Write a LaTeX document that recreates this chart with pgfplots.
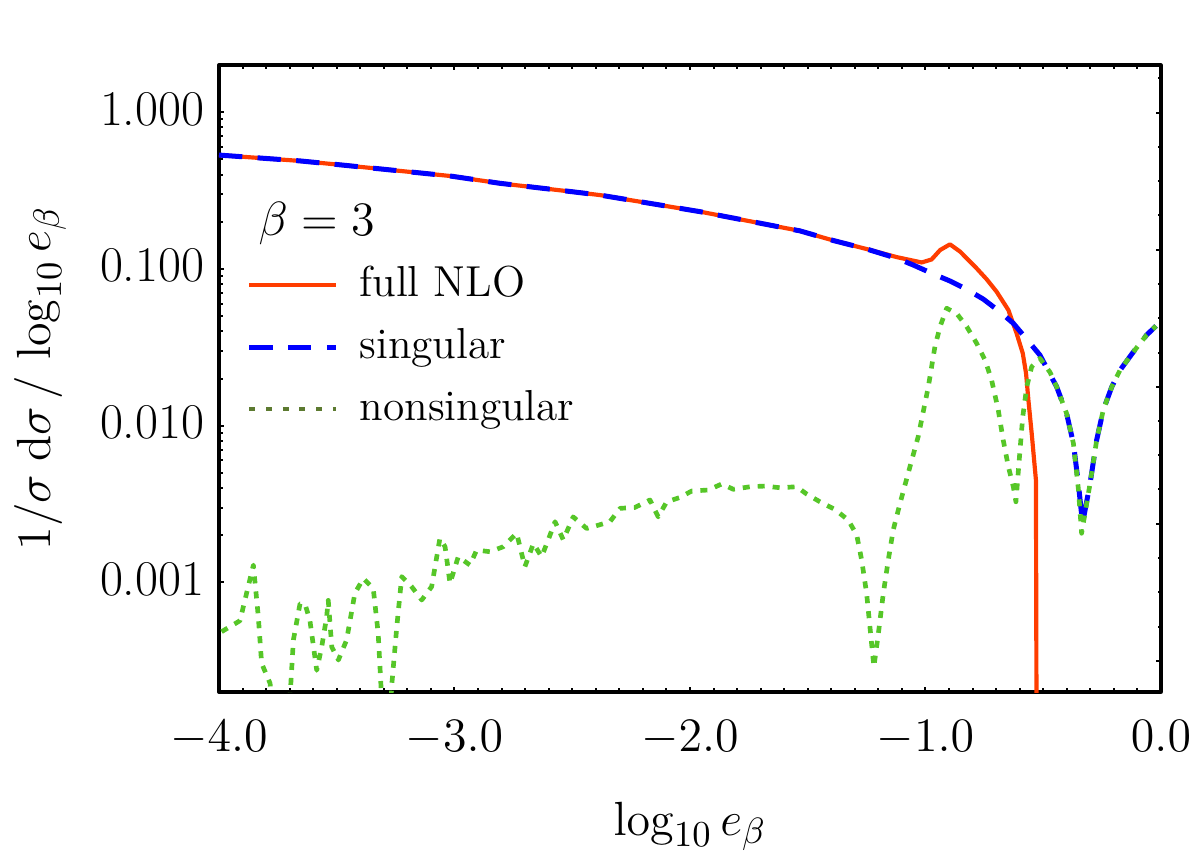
\documentclass[border=0pt]{standalone}
\usepackage{pgfplots}
\pgfplotsset{compat=1.18}
\definecolor{nlored}{RGB}{255,61,0}
\definecolor{singblue}{RGB}{0,0,255}
\definecolor{nsgreen}{RGB}{86,198,40}
\definecolor{nsolive}{RGB}{92,122,48}
\begin{document}
\begin{tikzpicture}
\path[use as bounding box] (-65.7pt,-50.4pt) rectangle (294.3pt,207.6pt);
\begin{axis}[
  at={(0pt,0pt)}, anchor=south west,
  scale only axis, width=282.6pt, height=188.1pt,
  xmin=-4, xmax=0, ymode=log, ymin=2e-4, ymax=2,
  axis line style={line width=1pt},
  tick align=inside, xtick pos=both, ytick pos=left,
  xtick={-4,-3,-2,-1,0},
  xticklabels={$-4.0$,$-3.0$,$-2.0$,$-1.0$,$0.0$},
  minor x tick num=9,
  ytick={0.001,0.01,0.1,1},
  yticklabels={0.001,0.010,0.100,1.000},
  major tick length=1.5pt, minor tick length=1.3pt,
  tick style={black, line width=0.6pt},
  tick label style={font=\fontsize{15}{18}\selectfont, inner sep=0pt},
  xticklabel style={anchor=base, yshift=-17.7pt},
  yticklabel style={anchor=east, xshift=-4.2pt, yshift=1pt},
  xlabel={$\log_{10} e_{\beta}$},
  ylabel={$1/\sigma\;\mathrm{d}\sigma\,/\,\log_{10} e_{\beta}$},
  label style={font=\fontsize{15.3}{18}\selectfont, inner sep=0pt},
  xlabel style={at={(axis description cs:0.5,-0.2281)}, anchor=base},
  ylabel style={at={(axis description cs:-0.1794,0.5)}, anchor=base},
  legend style={at={(axis description cs:0.0297,0.6863)}, anchor=north west,
    draw=none, fill=none, inner sep=0pt, outer sep=0pt,
    row sep=4.6pt, column sep=6.3pt,
    font=\fontsize{13}{15}\selectfont,
    nodes={inner sep=0pt, text height=10.5pt, text depth=3.5pt}},
  legend cell align=left,
  legend image code/.code={\draw[#1] (0pt,0pt) -- (26pt,0pt);},
  line join=round,
]
\addplot[nlored, line width=1.25pt] coordinates {
(-4.000,0.533) (-3.656,0.489) (-3.500,0.464) (-3.019,0.392) (-2.807,0.352)
(-2.500,0.311) (-2.382,0.296) (-1.957,0.232) (-1.533,0.175) (-1.392,0.152)
(-1.250,0.134) (-1.122,0.119) (-1.016,0.110) (-0.974,0.115) (-0.938,0.132)
(-0.896,0.1436) (-0.853,0.129) (-0.783,0.101) (-0.740,0.0859) (-0.698,0.0716)
(-0.648,0.0547) (-0.613,0.0388) (-0.587,0.0290) (-0.573,0.0216) (-0.563,0.0146)
(-0.549,0.00893) (-0.531,0.00450) (-0.525,0.000001)
};
\addlegendentry{full NLO}
\addplot[singblue, line width=1.5pt, dash pattern=on 7pt off 4.6pt] coordinates {
(-4.000,0.533) (-3.656,0.489) (-3.500,0.464) (-3.019,0.392) (-2.807,0.352)
(-2.500,0.311) (-2.382,0.296) (-1.957,0.232) (-1.533,0.175) (-1.392,0.152)
(-1.250,0.134) (-1.122,0.117) (-1.052,0.106) (-0.967,0.0929) (-0.896,0.0838)
(-0.825,0.0741) (-0.755,0.0643) (-0.684,0.0533) (-0.627,0.0450) (-0.570,0.0356)
(-0.514,0.0282) (-0.443,0.0177) (-0.401,0.0120) (-0.372,0.00773) (-0.351,0.00429)
(-0.333,0.00238) (-0.301,0.00429) (-0.273,0.00811) (-0.245,0.0126) (-0.209,0.0177)
(-0.174,0.0226) (-0.117,0.0296) (-0.061,0.0379) (-0.021,0.0433)
};
\addlegendentry{singular}
\addplot[nsgreen, line width=1.4pt, dash pattern=on 2.1pt off 2.4pt, forget plot] coordinates {
(-3.989,4.85e-4) (-3.911,5.70e-4) (-3.854,1.29e-3) (-3.833,6.04e-4) (-3.819,3.05e-4)
(-3.783,2.27e-4) (-3.740,3.2e-5) (-3.699,1.78e-4) (-3.684,4.30e-4) (-3.656,7.31e-4)
(-3.635,7.31e-4) (-3.614,5.73e-4) (-3.585,2.75e-4) (-3.564,3.87e-4) (-3.543,6.01e-4)
(-3.536,7.69e-4) (-3.521,3.87e-4) (-3.493,3.20e-4) (-3.458,4.30e-4) (-3.423,8.53e-4)
(-3.387,1.06e-3) (-3.345,9.18e-4) (-3.324,4.73e-4) (-3.309,1.78e-4) (-3.290,3.2e-5)
(-3.267,2.16e-4) (-3.245,5.22e-4) (-3.224,1.09e-3) (-3.182,9.40e-4) (-3.139,7.73e-4)
(-3.097,9.40e-4) (-3.062,1.91e-3) (-3.040,1.69e-3) (-3.019,9.86e-4) (-2.984,1.46e-3)
(-2.934,1.29e-3) (-2.906,1.61e-3) (-2.849,1.57e-3) (-2.793,1.69e-3) (-2.736,2.06e-3)
(-2.701,1.26e-3) (-2.665,1.77e-3) (-2.630,1.46e-3) (-2.602,1.87e-3) (-2.573,2.44e-3)
(-2.538,1.87e-3) (-2.496,2.62e-3) (-2.439,2.21e-3) (-2.389,2.32e-3) (-2.340,2.44e-3)
(-2.297,2.97e-3) (-2.234,3.01e-3) (-2.170,3.36e-3) (-2.135,2.62e-3) (-2.099,3.27e-3)
(-2.042,3.49e-3) (-1.993,3.83e-3) (-1.922,3.89e-3) (-1.865,4.25e-3) (-1.816,3.93e-3)
(-1.745,4.08e-3) (-1.682,4.12e-3) (-1.618,4.02e-3) (-1.547,4.08e-3) (-1.504,3.66e-3)
(-1.448,3.27e-3) (-1.384,2.92e-3) (-1.328,2.50e-3) (-1.292,2.01e-3) (-1.271,1.39e-3)
(-1.250,8.53e-4) (-1.236,5.22e-4) (-1.219,2.90e-4) (-1.200,4.73e-4) (-1.179,8.53e-4)
(-1.158,1.39e-3) (-1.137,2.16e-3) (-1.108,3.20e-3) (-1.066,5.47e-3) (-1.031,8.51e-3)
(-0.988,1.77e-2) (-0.960,3.19e-2) (-0.938,4.29e-2) (-0.910,5.61e-2) (-0.868,5.21e-2)
(-0.825,4.29e-2) (-0.783,3.36e-2) (-0.747,2.62e-2) (-0.719,1.95e-2) (-0.691,1.26e-2)
(-0.670,8.11e-3) (-0.648,5.47e-3) (-0.627,4.08e-3) (-0.616,3.27e-3) (-0.602,6.04e-3)
(-0.587,1.14e-2) (-0.570,1.77e-2) (-0.549,2.38e-2) (-0.514,2.69e-2) (-0.471,2.19e-2)
(-0.443,1.77e-2) (-0.401,1.20e-2) (-0.372,7.73e-3) (-0.351,3.98e-3) (-0.337,2.06e-3)
(-0.301,4.29e-3) (-0.273,8.11e-3) (-0.245,1.26e-2) (-0.209,1.77e-2) (-0.174,2.26e-2)
(-0.117,2.96e-2) (-0.061,3.79e-2) (-0.021,4.33e-2)
};
\addlegendimage{nsolive, line width=1.4pt, dash pattern=on 1.8pt off 3.2pt}
\addlegendentry{nonsingular}
\node[anchor=base west, inner sep=0pt, font=\fontsize{13.5}{16}\selectfont]
  at (axis description cs:0.0414,0.7289) {$\beta = 3$};
\end{axis}
\begin{axis}[
  at={(0pt,0pt)}, anchor=south west,
  scale only axis, width=282.6pt, height=188.1pt,
  xmin=0, xmax=1, ymin=0, ymax=627,
  hide x axis, axis y line*=right, axis line style={draw=none},
  tick align=inside,
  ytick={31.2,168.3,304.9,442.3,579.4},
  minor ytick={65.5,99.8,134.0,202.6,236.9,271.2,339.2,373.5,407.8,476.6,510.9,545.1,613.7},
  yticklabels={,,,,,},
  yticklabel style={opacity=0},
  major tick length=1.6pt, minor tick length=1.0pt,
  tick style={black, line width=0.6pt},
]
\end{axis}
\end{tikzpicture}
\end{document}
